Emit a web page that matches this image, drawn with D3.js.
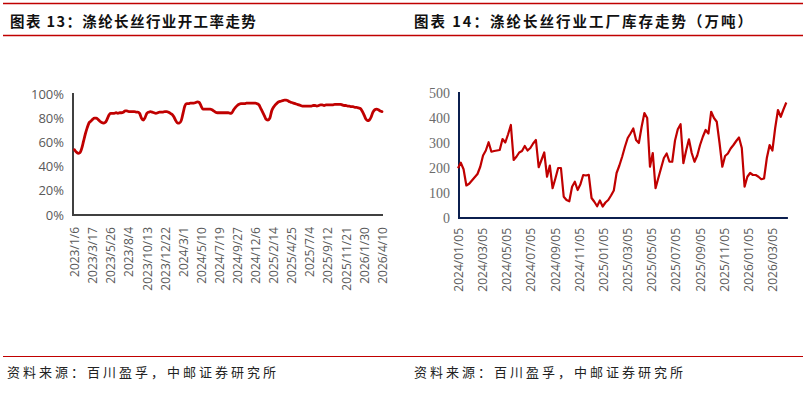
<!DOCTYPE html>
<html>
<head>
<meta charset="utf-8">
<script src="https://cdn.jsdelivr.net/npm/d3@7"></script>
<style>
  body { margin: 0; background: #fff; }
  svg { display: block; }
</style>
</head>
<body>
<svg id="chart" width="803" height="393"></svg>
<script>
// 图表13: 涤纶长丝行业开工率 (周度, %)
const rateStart = "2023-01-06"
const rateValues = [
  54, 52, 51, 51.5, 55, 61, 67, 72, 76, 77.5,
  79, 80, 80, 79, 77.5, 76.5, 76, 76.5, 79, 82.5,
  84, 84, 84, 84.5, 84, 84.5, 84.5, 85, 86, 86,
  85.5, 85.5, 85.5, 85.5, 85, 85, 84, 80, 78.5, 80.5,
  84, 85, 85.5, 85, 84.5, 84, 84.5, 85, 85, 85,
  85.5, 85.5, 85, 84, 83, 81, 78, 76, 76, 78,
  84, 90, 92, 92, 92.5, 92.5, 92.5, 93, 93.5, 93,
  90, 87.5, 87.5, 87.5, 87.5, 87.5, 87, 86, 85, 84.5,
  84.5, 84.5, 84.5, 84.5, 84.5, 84.5, 84, 84.5, 87, 89,
  90.5, 91.5, 92, 92, 92, 92.5, 92.5, 92.5, 92.5, 92.5,
  92.5, 92, 91, 88, 85, 82, 79, 78.5, 80, 86,
  89, 91, 92.5, 93.5, 94, 94.5, 95, 95, 94.5, 93.5,
  93, 92.5, 92, 91.5, 91, 90.5, 90, 90, 90, 90,
  90, 90, 90.5, 90.5, 90, 90.5, 91, 91, 90.5, 91,
  91, 91, 91, 91, 91.5, 91.5, 91.5, 91.5, 91, 90.5,
  90.5, 90, 90, 89.5, 89.5, 89, 89, 88.5, 88, 86,
  83, 79.5, 78, 78.5, 81, 85, 87, 87.5, 87, 86, 85.5
]
const rateTicks = [100, 80, 60, 40, 20, 0]

// 图表14: 涤纶长丝行业工厂库存 (周度, 万吨)
const stockStart = "2024-01-05"
const stockValues = [
  199, 221, 195, 130, 137, 150, 163, 176, 205, 250,
  270, 303, 265, 268, 270, 272, 316, 302, 335, 372,
  232, 245, 262, 268, 288, 270, 280, 298, 312, 203,
  232, 262, 165, 210, 119, 158, 200, 200, 85, 72,
  67, 125, 145, 112, 135, 172, 170, 173, 80, 65,
  47, 70, 46, 62, 72, 90, 110, 180, 210, 245,
  285, 320, 338, 358, 312, 300, 365, 420, 400, 205,
  260, 119, 160, 200, 240, 258, 225, 225, 310, 355,
  375, 219, 270, 315, 260, 225, 250, 292, 325, 352,
  338, 425, 400, 385, 300, 205, 248, 258, 278, 292,
  308, 322, 280, 125, 165, 180, 172, 172, 165, 155,
  158, 240, 292, 270, 360, 432, 405, 435, 462
]
const stockTicks = [0, 100, 200, 300, 400, 500]
const stockTickDates = [
  "2024/01/05", "2024/03/05", "2024/05/05", "2024/07/05", "2024/09/05", "2024/11/05",
  "2025/01/05", "2025/03/05", "2025/05/05", "2025/07/05", "2025/09/05", "2025/11/05",
  "2026/01/05", "2026/03/05"
]

const titleLeft = "图表 13：涤纶长丝行业开工率走势"
const titleRight = "图表 14：涤纶长丝行业工厂库存走势（万吨）"
const sourceText = "资料来源：百川盈孚，中邮证券研究所"

const red = "#c00000"
const svg = d3.select("#chart")
const cjk = "'Noto Sans CJK SC', sans-serif"

// 标题和边框线
svg.append("line").attr("x1", 3).attr("x2", 803).attr("y1", 3.5).attr("y2", 3.5)
  .attr("stroke", red).attr("stroke-width", 1.5)
svg.append("line").attr("x1", 3).attr("x2", 803).attr("y1", 35.5).attr("y2", 35.5)
  .attr("stroke", red).attr("stroke-width", 1.5)
svg.append("line").attr("x1", 3).attr("x2", 803).attr("y1", 356.5).attr("y2", 356.5)
  .attr("stroke", red).attr("stroke-width", 1.2)

svg.selectAll("text.title")
  .data([[10, titleLeft, 1.4], [414, titleRight, 2]])
  .join("text")
  .attr("class", "title")
  .attr("x", d => d[0]).attr("y", 27)
  .attr("font-family", cjk).attr("font-weight", 700)
  .attr("font-size", 14.5).attr("letter-spacing", d => d[2])
  .attr("fill", "#111")
  .text(d => d[1])

svg.selectAll("text.source")
  .data([7, 414])
  .join("text")
  .attr("class", "source")
  .attr("x", d => d).attr("y", 377)
  .attr("font-family", cjk).attr("font-weight", 400)
  .attr("font-size", 13).attr("letter-spacing", 3)
  .attr("fill", "#222")
  .text(sourceText)

// 左图：开工率
{
  const parse = d3.timeParse("%Y-%m-%d")
  const fmt = d3.timeFormat("%Y/%-m/%-d")
  const start = parse(rateStart)
  const dates = rateValues.map((v, i) => d3.timeDay.offset(start, i * 7))

  const x = d3.scalePoint().domain(d3.range(rateValues.length)).range([74.5, 382])
  const y = d3.scaleLinear().domain([0, 100]).range([215, 94])

  const g = svg.append("g")

  const yAxis = g.append("g")
    .attr("transform", "translate(73,0)")
    .call(d3.axisLeft(y).tickValues(rateTicks).tickSize(0).tickPadding(9).tickFormat(d => d + "%"))
  yAxis.select(".domain").remove()
  yAxis.selectAll("text")
    .attr("font-family", "'Open Sans', sans-serif").attr("font-size", 13).attr("fill", "#595959")

  const xIdx = d3.range(0, rateValues.length, 10)
  const xAxis = g.append("g")
    .attr("transform", "translate(0,215)")
    .call(d3.axisBottom(x).tickValues(xIdx).tickSize(0).tickFormat(i => fmt(dates[i])))
  xAxis.select(".domain").remove()
  xAxis.selectAll("text")
    .attr("font-family", "'Open Sans', sans-serif").attr("font-size", 12).attr("fill", "#595959")
    .attr("transform", "rotate(-90)")
    .attr("text-anchor", "end")
    .attr("x", -12).attr("y", 0).attr("dy", "0.35em")

  g.append("path")
    .attr("d", `M73,${y(100) - 1}V215H383`)
    .attr("fill", "none").attr("stroke", "#404040").attr("stroke-width", 2)

  g.append("path")
    .datum(rateValues)
    .attr("fill", "none").attr("stroke", red).attr("stroke-width", 2.8)
    .attr("stroke-linejoin", "round").attr("stroke-linecap", "round")
    .attr("d", d3.line().x((d, i) => x(i)).y(d => y(d)).curve(d3.curveMonotoneX))
}

// 右图：工厂库存
{
  const parseDay = d3.timeParse("%Y-%m-%d")
  const parseTick = d3.timeParse("%Y/%m/%d")
  const start = parseDay(stockStart)
  const dates = stockValues.map((v, i) => d3.timeDay.offset(start, i * 7))
  const tickDates = stockTickDates.map(parseTick)

  const x = d3.scaleTime()
    .domain([tickDates[0], tickDates[tickDates.length - 1]])
    .range([458, 772])
  const y = d3.scaleLinear().domain([0, 500]).range([218, 93])
  const xEnd = x(d3.timeDay.offset(dates[dates.length - 1], 4))

  const g = svg.append("g")

  const yAxis = g.append("g")
    .attr("transform", "translate(459,0)")
    .call(d3.axisLeft(y).tickValues(stockTicks).tickSize(0).tickPadding(9))
  yAxis.select(".domain").remove()
  yAxis.selectAll("text")
    .attr("font-family", "'Liberation Serif', serif").attr("font-size", 14).attr("fill", "#6b6b6b")

  const xAxis = g.append("g")
    .attr("transform", "translate(0,218)")
    .call(d3.axisBottom(x).tickValues(tickDates).tickSize(0).tickFormat(d3.timeFormat("%Y/%m/%d")))
  xAxis.select(".domain").remove()
  xAxis.selectAll("text")
    .attr("font-family", "'Open Sans', sans-serif").attr("font-size", 12).attr("fill", "#595959")
    .attr("transform", "rotate(-90)")
    .attr("text-anchor", "end")
    .attr("x", -10).attr("y", 0).attr("dy", "0.35em")

  g.append("path")
    .attr("d", `M459,92V218H${xEnd}`)
    .attr("fill", "none").attr("stroke", "#0b1f4f").attr("stroke-width", 2)

  g.append("path")
    .datum(stockValues)
    .attr("fill", "none").attr("stroke", red).attr("stroke-width", 2.2)
    .attr("stroke-linejoin", "round")
    .attr("d", d3.line().x((d, i) => x(dates[i])).y(d => y(d)))
}
</script>
</body>
</html>
